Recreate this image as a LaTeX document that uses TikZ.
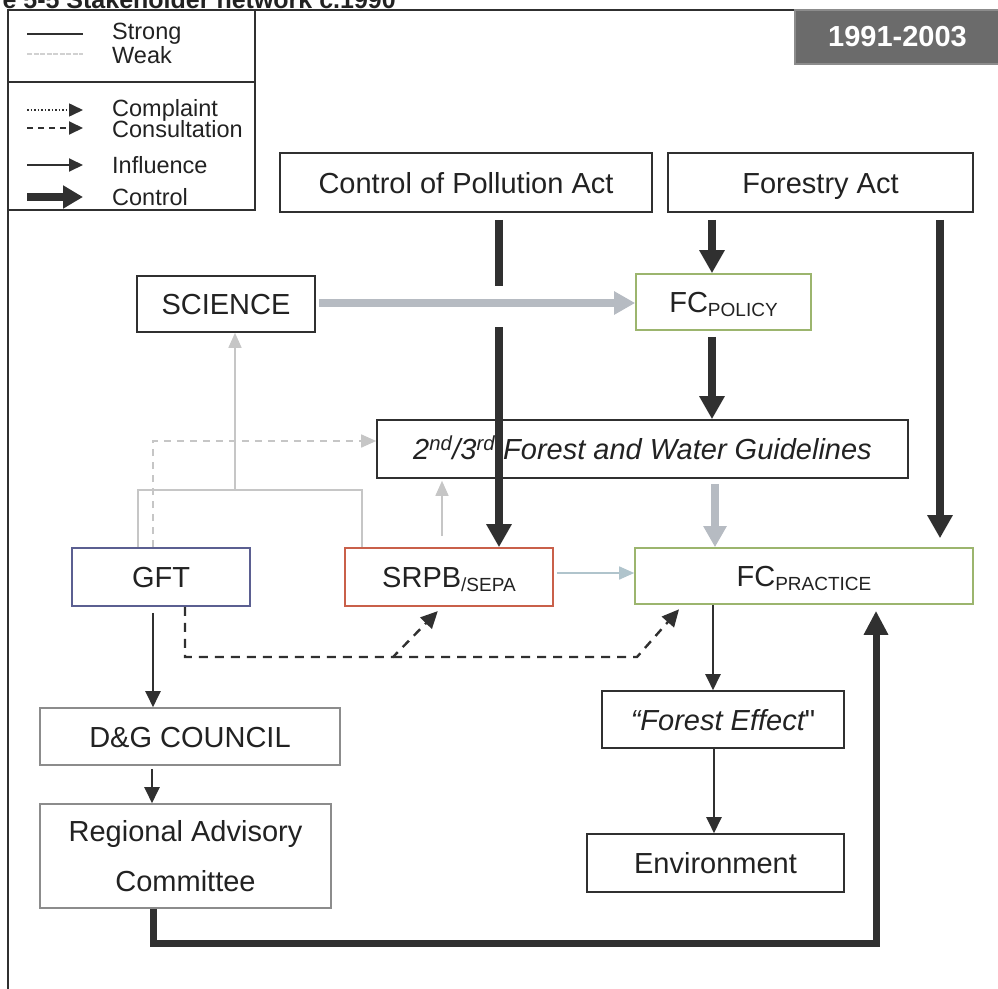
\documentclass[tikz,border=0pt]{standalone}
\usepackage{fontspec}
\setmainfont{Liberation Sans}
\newfontfamily\rawfont[Ligatures=TeXOff]{Liberation Sans}
\usetikzlibrary{arrows.meta}
\definecolor{dark}{HTML}{303030}
\definecolor{txt}{HTML}{222222}
\definecolor{ctrlgray}{HTML}{B6BBC2}
\definecolor{weakgray}{HTML}{C6C6C6}
\definecolor{weakblue}{HTML}{B0C4CC}
\definecolor{fcgreen}{HTML}{9CB56E}
\definecolor{gftblue}{HTML}{5B5F91}
\definecolor{srpbred}{HTML}{C9604A}
\definecolor{lightbox}{HTML}{8C8C8C}
\definecolor{yearfill}{HTML}{6B6B6B}
\newcommand{\subtxt}[1]{{\fontsize{19}{19}\selectfont\raisebox{-4pt}{#1}}}
\begin{document}
\begin{tikzpicture}[x=1pt,y=-1pt,
  boxbase/.style={draw=dark, line width=1.6pt, fill=white, inner sep=0pt, text=txt,
    font=\fontsize{29}{34}\selectfont},
  box/.style={boxbase, text height=24pt, text depth=3pt},
  legtxt/.style={anchor=west, text=txt, inner sep=0pt, font=\fontsize{23.5}{26}\selectfont},
  ctrl/.style={draw=dark, line width=8pt, -{Triangle[length=23pt,width=24pt]}},
  ctrlweak/.style={draw=ctrlgray, line width=8pt, -{Triangle[length=21pt,width=22pt]}},
  infl/.style={draw=dark, line width=2.2pt, -{Triangle[length=16pt,width=15pt]}},
  consult/.style={draw=dark, line width=2.4pt, dash pattern=on 9pt off 7pt, -{Triangle[length=17pt,width=16pt]}},
  weakline/.style={draw=weakgray, line width=1.6pt},
  weakarr/.style={draw=weakgray, line width=1.6pt, -{Triangle[length=15pt,width=13pt]}},
  frameline/.style={draw=dark, line width=1.8pt}
]
\useasboundingbox (0,0) rectangle (998,988);
\clip (0,0) rectangle (998,988);

% title (partly cut off at the top edge, as in the source)
\node[anchor=base east, inner sep=0pt, text=txt, font=\fontsize{25}{27}\selectfont\bfseries] (title) at (396,8) {Figure 5-5 Stakeholder network c.1990};

% outer frame and legend box
\draw[frameline] (8,1000) -- (8,10) -- (1000,10);
\draw[frameline] (8,10) rectangle (255,210);
\draw[frameline] (8,82) -- (255,82);

% legend
\coordinate (ls1) at (27,34);  \coordinate (le1) at (83,34);
\coordinate (ls2) at (27,54);  \coordinate (le2) at (83,54);
\coordinate (ls3) at (27,110); \coordinate (le3) at (83,110);
\coordinate (ls4) at (27,128); \coordinate (le4) at (83,128);
\coordinate (ls5) at (27,165); \coordinate (le5) at (83,165);
\coordinate (ls6) at (27,197); \coordinate (le6) at (83,197);
\draw[draw=dark, line width=1.6pt] (ls1) -- (le1);
\draw[draw=weakgray!80, line width=1.4pt, dash pattern=on 5pt off 1.5pt] (ls2) -- (le2);
\draw[draw=dark, line width=1.6pt, dash pattern=on 1.5pt off 2pt, -{Triangle[length=14pt,width=13pt]}] (ls3) -- (le3);
\draw[draw=dark, line width=2pt, dash pattern=on 6pt off 5pt, -{Triangle[length=14pt,width=13pt]}] (ls4) -- (le4);
\draw[draw=dark, line width=2pt, -{Triangle[length=14pt,width=13pt]}] (ls5) -- (le5);
\draw[draw=dark, line width=8pt, -{Triangle[length=20pt,width=22pt]}] (ls6) -- (le6);
\node[legtxt] (lstrong) at (112,34) {Strong};
\node[legtxt] (lweak) at (112,55) {Weak};
\node[legtxt] (lcompl) at (112,110) {Complaint};
\node[legtxt] (lcons) at (112,129) {Consultation};
\node[legtxt] (linfl) at (112,165) {Influence};
\node[legtxt] (lctrl) at (112,197) {Control};

% year tag
\node[draw=lightbox, line width=1.2pt, fill=yearfill, text=white, inner sep=0pt,
  minimum width=205pt, minimum height=54pt, font=\fontsize{29}{32}\selectfont\bfseries] (year) at (897.5,37) {1991-2003};

% nodes
\node[box, minimum width=372pt, minimum height=59pt] (cpa) at (466,182.5) {Control of Pollution Act};
\node[box, minimum width=305pt, minimum height=59pt] (fa) at (820.5,182.5) {Forestry Act};
\node[box, minimum width=178pt, minimum height=56pt] (sci) at (226,304) {SCIENCE};
\node[box, draw=fcgreen, minimum width=175pt, minimum height=56pt] (fcp) at (723.5,302) {FC\subtxt{POLICY}};
\node[box, minimum width=531pt, minimum height=58pt] (guide) at (642.5,449)
  {\itshape 2\textsuperscript{nd}/3\textsuperscript{rd} Forest and Water Guidelines};
\node[box, draw=gftblue, minimum width=178pt, minimum height=58pt] (gft) at (161,577) {GFT};
\node[box, draw=srpbred, minimum width=208pt, minimum height=58pt] (srpb) at (449,577) {SRPB\subtxt{/SEPA}};
\node[box, draw=fcgreen, minimum width=338pt, minimum height=56pt] (fcpr) at (804,576) {FC\subtxt{PRACTICE}};
\node[box, minimum width=242pt, minimum height=57pt] (fe) at (723,719.5) {{\itshape “Forest Effect}{\rawfont"}};
\node[box, minimum width=257pt, minimum height=58pt] (env) at (715.5,863) {Environment};
\node[box, draw=lightbox, minimum width=300pt, minimum height=57pt] (dg) at (190,736.5) {D\&G COUNCIL};
\node[boxbase, draw=lightbox, minimum width=291pt, minimum height=104pt, align=center,
  font=\fontsize{29}{50}\selectfont] (rac) at (185.5,856) {Regional Advisory\\Committee};

% junction coordinates
\coordinate (bus) at (235,490);
\coordinate (c1) at (393,657);
\coordinate (c2) at (637,657);
\coordinate (botR) at (876,943);

% control (strong, dark)
\draw[ctrl, shorten <=7pt] (cpa.south -| 499,0) -- (srpb.north -| 499,0);
\draw[ctrl, shorten <=7pt] (fa.south -| 712,0) -- (fcp.north -| 712,0);
\draw[ctrl, shorten <=7pt, shorten >=9pt] (fa.south -| 940,0) -- (fcpr.north -| 940,0);
\draw[ctrl, shorten <=6pt] (fcp.south -| 712,0) -- (guide.north -| 712,0);
\draw[draw=dark, line width=7pt, -{Triangle[length=24pt,width=23pt]}, shorten >=6pt]
  (rac.south -| 153,0) |- (botR) -- (fcpr.south -| 876,0);

% gap in the pollution-act line where the science arrow crosses
\fill[white] (492,286) rectangle (506,327);

% control (weak, grey)
\draw[ctrlweak, shorten <=3pt] (sci.east |- 0,303) -- (fcp.west |- 0,303);
\draw[ctrlweak, shorten <=5pt] (guide.south -| 715,0) -- (fcpr.north -| 715,0);

% weak links
\draw[weakline] (gft.north -| 138,0) |- (bus);
\draw[weakline] (srpb.north -| 362,0) |- (bus);
\draw[weakarr] (bus) -- (sci.south -| 235,0);
\draw[weakarr, dash pattern=on 7pt off 6pt] (gft.north -| 153,0) |- (guide.west |- 0,441);
\draw[weakarr, shorten <=11pt, shorten >=2pt] (srpb.north -| 442,0) -- (guide.south -| 442,0);
\draw[draw=weakblue, line width=1.6pt, -{Triangle[length=15pt,width=13pt]}, shorten <=3pt]
  (srpb.east |- 0,573) -- (fcpr.west |- 0,573);

% consultation (strong, dashed)
\draw[consult, shorten >=6pt] (gft.south -| 185,0) |- (c1) -- (srpb.south -| 442,0);
\draw[consult, shorten >=6pt] (c1) -- (c2) -- (fcpr.south -| 683,0);

% influence (strong)
\draw[infl, shorten <=6pt] (gft.south -| 153,0) -- (dg.north -| 153,0);
\draw[infl, shorten <=3pt] (dg.south -| 152,0) -- (rac.north -| 152,0);
\draw[infl] (fcpr.south -| 713,0) -- (fe.north -| 713,0);
\draw[infl] (fe.south -| 714,0) -- (env.north -| 714,0);
\end{tikzpicture}
\end{document}
